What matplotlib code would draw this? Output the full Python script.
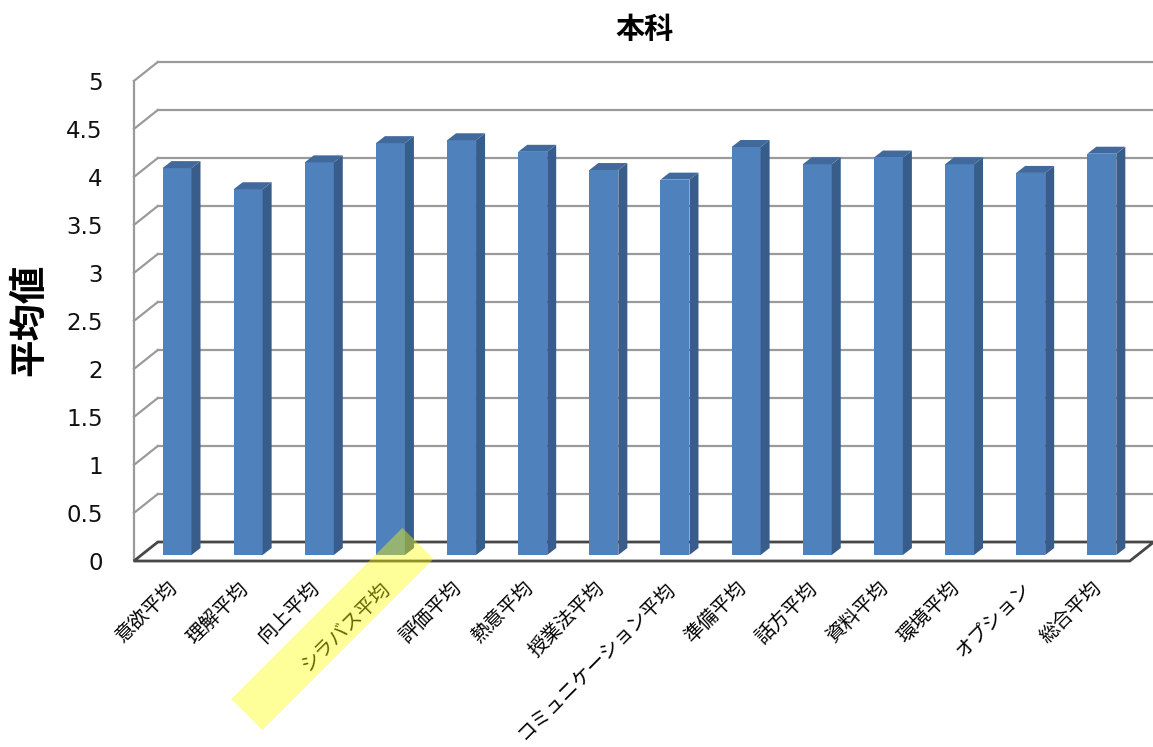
import numpy as np
import matplotlib
matplotlib.use("Agg")
import matplotlib.pyplot as plt
from matplotlib.patches import Polygon
from matplotlib.transforms import IdentityTransform

plt.rcParams['font.family'] = ['Noto Sans CJK JP', 'DejaVu Sans']

title = "本科"
ylabel = "平均値"
categories = ["意欲平均", "理解平均", "向上平均", "シラバス平均", "評価平均", "熱意平均",
              "授業法平均", "コミュニケーション平均", "準備平均", "話方平均", "資料平均",
              "環境平均", "オプション", "総合平均"]
values = [4.03, 3.81, 4.09, 4.29, 4.32, 4.20, 4.01, 3.91, 4.25, 4.07, 4.14, 4.07, 3.98, 4.18]
yticks = [0, 0.5, 1, 1.5, 2, 2.5, 3, 3.5, 4, 4.5, 5]
ytick_labels = ["0", "0.5", "1", "1.5", "2", "2.5", "3", "3.5", "4", "4.5", "5"]
highlight_idx = 3

W, H = 1153, 747
PX_X = 71.14   # pixels per category step
PX_Y = 96.0    # pixels per value unit
X0, Y0 = 177, 555  # pixel of category 0 / value 0

fig = plt.figure(figsize=(W / 100, H / 100), dpi=100)
ax = fig.add_axes([0, 0, 1, 1])
ax.set_xlim(-X0 / PX_X, (W - X0) / PX_X)
ax.set_ylim((Y0 - H) / PX_Y, Y0 / PX_Y)
ax.axis('off')

# oblique depth of the plot box and of each bar
DX, DY = 24 / PX_X, 19 / PX_Y
t = 6 / 19
BW = 29 / PX_X
bdx, bdy = 9 / PX_X, 7 / PX_Y

front_c, side_c, top_c = '#4F81BD', '#385D8A', '#41699C'
grid_c, floor_c = '#9a9a9a', '#474747'

n = len(categories)
ymax = yticks[-1]
x_fl, x_bl = -0.5 - t * DX, -0.5 + (1 - t) * DX
x_fr, x_br = n - 0.5 - t * DX, n - 0.5 + (1 - t) * DX
y_f, y_b = -t * DY, (1 - t) * DY

# back wall and side wall gridlines
for v in yticks[1:]:
    ax.plot([x_bl, x_br], [y_b + v, y_b + v], color=grid_c, lw=1.6, zorder=1)
    ax.plot([x_fl, x_bl], [y_f + v, y_b + v], color=grid_c, lw=1.6, zorder=1)
ax.plot([x_fl, x_fl], [y_f, y_f + ymax], color=grid_c, lw=1.6, zorder=1)

# floor
ax.add_patch(Polygon([(x_fl, y_f), (x_fr, y_f), (x_br, y_b), (x_bl, y_b)], closed=True,
                     fc='white', ec=floor_c, lw=2, zorder=2))

# bars: front face, side and top
x = np.arange(n)
ax.bar(x, values, width=BW, color=front_c, zorder=3)
for xi, v in zip(x, values):
    r = xi + BW / 2
    l = xi - BW / 2
    ax.add_patch(Polygon([(r, 0), (r + bdx, bdy), (r + bdx, v + bdy), (r, v)],
                         closed=True, fc=side_c, ec='none', zorder=3))
    ax.add_patch(Polygon([(l, v), (r, v), (r + bdx, v + bdy), (l + bdx, v + bdy)],
                         closed=True, fc=top_c, ec='none', zorder=3))

# value axis labels on the front edge of the side wall
for v, lbl in zip(yticks, ytick_labels):
    ax.annotate(lbl, (x_fl, y_f + v), xytext=(-31, -2), textcoords='offset pixels',
                ha='right', va='center', fontsize=16.5, family='DejaVu Sans', color='#111111')

# category labels
for xi, lbl in zip(x, categories):
    ax.annotate(lbl, (xi, 0), xytext=(-3, -30), textcoords='offset pixels',
                rotation=45, rotation_mode='anchor', ha='right', va='center',
                fontsize=14, color='black')

fig.text(645 / W, 1 - 29 / H, title, ha='center', va='center', fontsize=21, fontweight='bold')
fig.text(29 / W, 1 - 320 / H, ylabel, ha='center', va='center', rotation=90,
         fontsize=27, fontweight='bold')

# yellow marker over one category label
cx, cy = ax.transData.transform((highlight_idx, 0))
cx, cy = cx - 58, cy - 74
u = np.array([1, 1]) / np.sqrt(2)
nrm = np.array([-1, 1]) / np.sqrt(2)
hl, hw = 121, 22
c = np.array([cx, cy])
corners = [c - hl * u - hw * nrm, c + hl * u - hw * nrm, c + hl * u + hw * nrm, c - hl * u + hw * nrm]
fig.add_artist(Polygon(corners, closed=True, transform=IdentityTransform(),
                       fc='#ffff00', alpha=0.4, ec='none', zorder=5))

fig.savefig('out.png', dpi=100)
